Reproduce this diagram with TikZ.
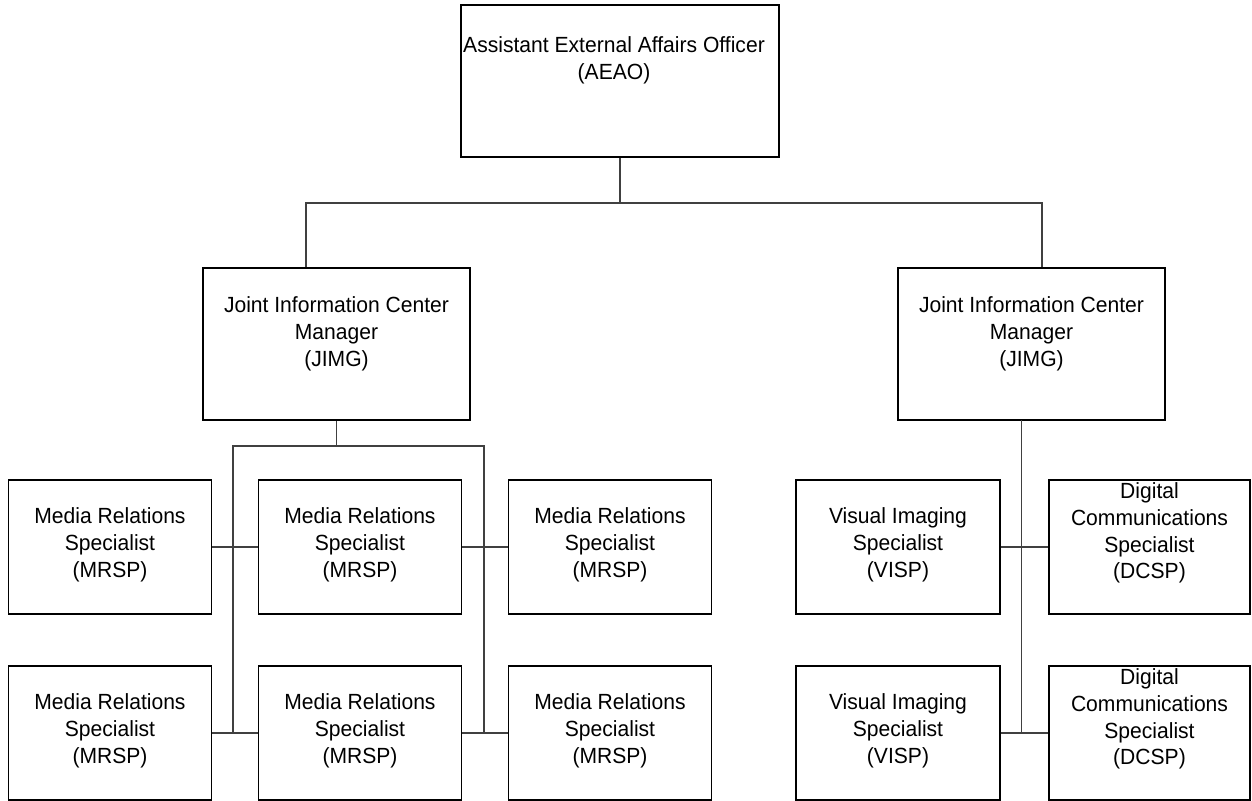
\documentclass[tikz,border=0pt]{standalone}
\usepackage{fontspec}
\setmainfont{Liberation Sans}[FakeStretch=0.96]
\usetikzlibrary{calc}
\tikzset{
  box/.style={draw=black, line width=1.1pt, rectangle, inner sep=0pt},
  txt/.style={align=center, inner sep=0pt, font=\fontsize{12.5}{15.2}\selectfont},
  conn/.style={draw=black!75, line width=0.6pt},
}
\begin{document}
\begin{tikzpicture}[x=0.02cm, y=-0.02cm]
\useasboundingbox (0,0) rectangle (1252,801);
% top
\node[box, minimum width=6.36cm, minimum height=3.04cm] (aeao) at (620,81) {};
\node[txt] (aeaot) at (614,60) {Assistant External Affairs Officer\\(AEAO)};
% managers
\node[box, minimum width=5.34cm, minimum height=3.04cm] (jl) at (336.5,344) {};
\node[txt] (jlt) at (336.5,334) {Joint Information Center\\Manager\\(JIMG)};
\node[box, minimum width=5.34cm, minimum height=3.04cm] (jr) at (1031.5,344) {};
\node[txt] (jrt) at (1031.5,334) {Joint Information Center\\Manager\\(JIMG)};
% MRSP boxes
\foreach \c/\cx in {1/110,2/360,3/610}{
  \node[box, minimum width=4.06cm, minimum height=2.68cm] (m1\c) at (\cx,547) {};
  \node[txt] (m1\c t) at (\cx,545) {Media Relations\\Specialist\\(MRSP)};
  \node[box, minimum width=4.06cm, minimum height=2.68cm] (m2\c) at (\cx,733) {};
  \node[txt] (m2\c t) at (\cx,731) {Media Relations\\Specialist\\(MRSP)};
}
% VISP / DCSP
\node[box, minimum width=4.08cm, minimum height=2.68cm] (v1) at (898,547) {};
\node[txt] (v1t) at (898,545) {Visual Imaging\\Specialist\\(VISP)};
\node[box, minimum width=4.08cm, minimum height=2.68cm] (v2) at (898,733) {};
\node[txt] (v2t) at (898,731) {Visual Imaging\\Specialist\\(VISP)};
\node[box, minimum width=4.02cm, minimum height=2.68cm] (dc1) at (1149.5,547) {};
\node[txt] (dc1t) at (1149.5,533) {Digital\\Communications\\Specialist\\(DCSP)};
\node[box, minimum width=4.02cm, minimum height=2.68cm] (dc2) at (1149.5,733) {};
\node[txt] (dc2t) at (1149.5,719) {Digital\\Communications\\Specialist\\(DCSP)};
% connectors top
\coordinate (b1) at (306,203);
\coordinate (b2) at (1042,203);
\draw[conn] (aeao.south) -- (aeao.south |- b1);
\draw[conn] (jl.north -| b1) -- (b1) -- (b2) -- (b2 |- jr.north);
% left manager
\coordinate (c1) at (233,446);
\coordinate (c2) at (484,446);
\draw[conn] (jl.south) -- (jl.south |- c1);
\draw[conn] (c1 |- m21.east) -- (c1) -- (c2) -- (c2 |- m23.west);
\draw[conn] (m11.east) -- (m12.west);
\draw[conn] (m12.east) -- (m13.west);
\draw[conn] (m21.east) -- (m22.west);
\draw[conn] (m22.east) -- (m23.west);
% right manager
\coordinate (d1) at (1021.5,420);
\draw[conn] (d1) -- (d1 |- v2.east);
\draw[conn] (v1.east) -- (dc1.west);
\draw[conn] (v2.east) -- (dc2.west);
\end{tikzpicture}
\end{document}
